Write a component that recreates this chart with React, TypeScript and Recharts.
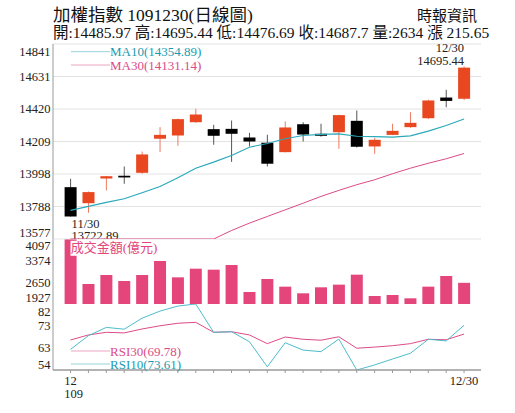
import React from "react";
import { ComposedChart, Bar, Line, XAxis, YAxis, CartesianGrid } from "recharts";

// 加權指數 日線 (11/30 ~ 12/30)
const dates = [
  "11/30", "12/01", "12/02", "12/03", "12/04", "12/07", "12/08", "12/09",
  "12/10", "12/11", "12/14", "12/15", "12/16", "12/17", "12/18", "12/21",
  "12/22", "12/23", "12/24", "12/25", "12/28", "12/29", "12/30",
];
const opens = [
  13913, 13809, 13969, 13987, 14006, 14227, 14248, 14334, 14289, 14291, 14235,
  14201, 14140, 14321, 14259, 14269, 14343, 14177, 14252, 14302, 14360, 14494,
  14485.97,
];
const highs = [
  13967, 13885, 13986, 14047, 14144, 14302, 14358, 14421, 14317, 14345, 14265,
  14253, 14339, 14334, 14324, 14382, 14410, 14232, 14324, 14399, 14480, 14544,
  14695.44,
];
const lows = [
  13722.89, 13747, 13892, 13935, 14000, 14140, 14181, 14330, 14188, 14077,
  14177, 14047, 14138, 14209, 14240, 14162, 14170, 14129, 14250, 14298, 14355,
  14431, 14476.69,
];
const closes = [
  13722.89, 13881, 13984, 13976, 14125, 14252, 14354, 14384, 14246, 14259,
  14209, 14065, 14300, 14254, 14246, 14380, 14175, 14220, 14278, 14330, 14475,
  14472.05, 14687.7,
];
const ma10 = [
  13762, 13788, 13814, 13838, 13877, 13917, 13974, 14036, 14075, 14118, 14172,
  14196, 14227, 14248, 14255, 14259, 14243, 14240, 14237, 14246, 14276, 14313,
  14354.89,
];
const ma30 = [
  13577, 13577, 13577, 13577, 13577, 13577, 13577, 13577, 13577, 13632, 13680,
  13723, 13766, 13809, 13853, 13892, 13929, 13961, 14000, 14036, 14068, 14097,
  14131.14,
];
const volumes = [
  4097, 2595, 2895, 2695, 2895, 3363, 2817, 3106, 3073, 3229, 2328, 2762, 2506,
  2284, 2484, 2573, 2906, 2194, 2228, 2117, 2506, 2862, 2634,
];
const rsi10 = [
  63.1, 69.1, 72.7, 71.9, 76.7, 79.8, 82.0, 82.9, 70.55, 70.8, 66.45, 55.5,
  66.0, 62.8, 62.1, 67.6, 54.1, 56.3, 58.9, 61.4, 67.5, 66.8, 73.61,
];
const rsi30 = [
  67.2, 69.4, 70.55, 70.3, 72.0, 73.4, 74.5, 74.9, 70.55, 70.8, 69.4, 65.6,
  68.5, 67.5, 67.1, 68.6, 63.6, 64.1, 64.7, 65.6, 67.5, 67.3, 69.78,
];

const priceTicks = [13577, 13787.67, 13998.33, 14209, 14419.67, 14630.33, 14841];
const priceTickLabels = ["13577", "13788", "13998", "14209", "14420", "14631", "14841"];
const volumeTicks = [1927, 2650.33, 3373.67, 4097];
const volumeTickLabels = ["1927", "2650", "3374", "4097"];
const rsiTicks = [54.1, 63.7, 73.3, 82.9];
const rsiTickLabels = ["54", "63", "73", "82"];
const xTickLabels: string[][] = dates.map((d, i) =>
  i === 0 ? ["12", "109"] : i === dates.length - 1 ? ["12/30"] : []
);

const FONT = "'Liberation Serif', 'Noto Sans CJK TC', serif";
const RED = "#e8471f";
const PINK = "#e4457a";
const CYAN = "#2aa9ba";
const MAGENTA = "#dc4b87";
const AXIS = "#9a9a9a";
const SEP = "#bdbdbd";

const data = dates.map((date, i) => ({
  date,
  open: opens[i],
  high: highs[i],
  low: lows[i],
  close: closes[i],
  range: [lows[i], highs[i]],
  ma10: ma10[i],
  ma30: ma30[i],
  volume: volumes[i],
  rsi10: rsi10[i],
  rsi30: rsi30[i],
}));

const lowIdx = lows.indexOf(Math.min(...lows));
const highIdx = highs.indexOf(Math.max(...highs));

const margin = { top: 0, right: 34, bottom: 0, left: 0 };
const xPadding = { left: 8.6, right: 8 };

const makeYTick =
  (labels: string[], topShift: number, bottomShift: number) => (props: any) => {
    const { x, y, index } = props;
    const shift =
      index === 0 ? bottomShift : index === labels.length - 1 ? topShift : 0;
    return (
      <text
        x={x}
        y={y + shift + 4.3}
        textAnchor="end"
        fontSize={12.5}
        fill="#222"
        fontFamily={FONT}
      >
        {labels[index]}
      </text>
    );
  };

const XTick = (props: any) => {
  const { x, y, index } = props;
  const lines = xTickLabels[index] || [];
  return (
    <g>
      <line x1={x} x2={x} y1={y} y2={y + 3} stroke={AXIS} />
      {lines.map((t, k) => (
        <text
          key={k}
          x={k === 0 ? x : x - 6.25}
          y={y + 14.5 + k * 13}
          textAnchor={k === 0 ? "middle" : "start"}
          fontSize={12.5}
          fill="#222"
          fontFamily={FONT}
        >
          {t}
        </text>
      ))}
    </g>
  );
};

const Candle = (props: any) => {
  const { x, y, width, height, payload } = props;
  const { open, close, high, low, date } = payload;
  const top = Math.min(y, y + height);
  const h = Math.abs(height);
  const toY = (v: number) => top + ((high - v) / (high - low)) * h;
  const up = close >= open;
  const color = up ? RED : "#000";
  const cx = x + width / 2;
  const bTop = toY(Math.max(open, close));
  const bBot = toY(Math.min(open, close));
  const i = dates.indexOf(date);
  return (
    <g>
      <line
        x1={cx}
        x2={cx}
        y1={toY(high)}
        y2={toY(low)}
        stroke={up ? "#ef7a60" : "#555"}
        strokeWidth={1}
      />
      <rect
        x={x}
        y={bTop}
        width={width}
        height={Math.max(bBot - bTop, 1.6)}
        fill={color}
      />
      {i === lowIdx && (
        <g fontFamily={FONT} fontSize={12.5} fill="#222">
          <text x={cx + 1} y={toY(low) + 11.5}>{date}</text>
          <text x={cx + 1} y={toY(low) + 23.5}>{low.toFixed(2)}</text>
        </g>
      )}
      {i === highIdx && (
        <g fontFamily={FONT} fontSize={12.5} fill="#222" textAnchor="end">
          <text x={cx} y={toY(high) - 14.5}>{date}</text>
          <text x={cx} y={toY(high) - 1}>{high.toFixed(2)}</text>
        </g>
      )}
    </g>
  );
};

const RightBorder = () => (
  <YAxis
    yAxisId="r"
    orientation="right"
    width={0}
    domain={[0, 1]}
    tick={false}
    tickLine={false}
    axisLine={{ stroke: AXIS }}
  />
);

export default function App() {
  return (
    <div
      style={{
        position: "absolute",
        left: 0,
        top: 0,
        width: 515,
        height: 413,
        background: "#fff",
        fontFamily: FONT,
      }}
    >
      {/* 成交金額 */}
      <div style={{ position: "absolute", left: 0, top: 239 }}>
        <ComposedChart width={515} height={65} data={data} margin={margin}>
          <XAxis
            dataKey="date"
            scale="band"
            padding={xPadding}
            height={0}
            tick={false}
            tickLine={false}
            axisLine={{ stroke: SEP, strokeWidth: 2 }}
          />
          <YAxis
            type="number"
            domain={[1927, 4097]}
            ticks={volumeTicks}
            interval={0}
            allowDataOverflow
            width={53}
            tickSize={0}
            tickMargin={2.5}
            tickLine={false}
            axisLine={{ stroke: AXIS }}
            tick={makeYTick(volumeTickLabels, 6.7, -6.3)}
          />
          {RightBorder()}
          <Bar dataKey="volume" barSize={12} fill={PINK} isAnimationActive={false} />
        </ComposedChart>
      </div>

      {/* RSI */}
      <div style={{ position: "absolute", left: 0, top: 304 }}>
        <ComposedChart width={515} height={109} data={data} margin={margin}>
          <XAxis
            dataKey="date"
            scale="band"
            padding={xPadding}
            height={43}
            interval={0}
            tickSize={0}
            tickMargin={0}
            tickLine={false}
            axisLine={{ stroke: AXIS, strokeWidth: 1.5 }}
            tick={XTick}
          />
          <YAxis
            type="number"
            domain={[54.1, 82.9]}
            ticks={rsiTicks}
            interval={0}
            allowDataOverflow
            width={53}
            tickSize={0}
            tickMargin={2.5}
            tickLine={false}
            axisLine={{ stroke: AXIS }}
            tick={makeYTick(rsiTickLabels, 8, -5)}
          />
          {RightBorder()}
          <Line dataKey="rsi30" stroke={MAGENTA} strokeWidth={1} dot={false} isAnimationActive={false} />
          <Line dataKey="rsi10" stroke="#4dbdca" strokeWidth={1} dot={false} isAnimationActive={false} />
        </ComposedChart>
      </div>

      {/* K線 (drawn last so its labels can spill over the volume panel) */}
      <div style={{ position: "absolute", left: 0, top: 0 }}>
        <ComposedChart
          width={515}
          height={246}
          data={data}
          margin={{ ...margin, top: 44, bottom: 7 }}
        >
          <CartesianGrid vertical={false} stroke="#e3e3e3" />
          <XAxis
            dataKey="date"
            scale="band"
            padding={xPadding}
            height={0}
            tick={false}
            tickLine={false}
            axisLine={{ stroke: SEP, strokeWidth: 2 }}
          />
          <YAxis
            type="number"
            domain={[13577, 14841]}
            ticks={priceTicks}
            interval={0}
            allowDataOverflow
            width={53}
            tickSize={0}
            tickMargin={2.5}
            tickLine={false}
            axisLine={{ stroke: AXIS }}
            tick={makeYTick(priceTickLabels, 7.7, -6.3)}
          />
          {RightBorder()}
          <Bar dataKey="range" barSize={12} shape={Candle} isAnimationActive={false} />
          <Line dataKey="ma10" stroke={CYAN} strokeWidth={1.2} dot={false} isAnimationActive={false} />
          <Line dataKey="ma30" stroke={MAGENTA} strokeWidth={1} dot={false} isAnimationActive={false} />
        </ComposedChart>
      </div>

      {/* 標題與圖例 */}
      <svg
        width={515}
        height={413}
        style={{ position: "absolute", left: 0, top: 0, pointerEvents: "none" }}
        fontFamily={FONT}
      >
        <text x={53} y={21} fontSize={17.5} fill="#111">
          加權指數 1091230(日線圖)
        </text>
        <text x={477} y={21} fontSize={15} fill="#111" textAnchor="end">
          時報資訊
        </text>
        <text x={53} y={37.7} fontSize={15.5} fill="#111">
          開:14485.97 高:14695.44 低:14476.69 收:14687.7 量:2634 漲 215.65
        </text>

        <line x1={71} x2={110} y1={51.7} y2={51.7} stroke={CYAN} strokeOpacity={0.5} />
        <text x={110} y={56.2} fontSize={13} fill="#1a9bb0">
          MA10(14354.89)
        </text>
        <line x1={71} x2={110} y1={65} y2={65} stroke={MAGENTA} strokeOpacity={0.5} />
        <text x={110} y={69.5} fontSize={13} fill={MAGENTA}>
          MA30(14131.14)
        </text>

        <rect x={70.5} y={240.8} width={89} height={15} fill="#fff" />
        <text x={70.7} y={252.3} fontSize={13} fill={PINK}>
          成交金額(億元)
        </text>

        <line x1={71} x2={110} y1={351} y2={351} stroke={MAGENTA} strokeOpacity={0.5} />
        <text x={110} y={355.5} fontSize={13} fill={MAGENTA}>
          RSI30(69.78)
        </text>
        <line x1={71} x2={110} y1={364} y2={364} stroke={CYAN} strokeOpacity={0.5} />
        <text x={110} y={368.5} fontSize={13} fill="#1a9bb0">
          RSI10(73.61)
        </text>
      </svg>
    </div>
  );
}
